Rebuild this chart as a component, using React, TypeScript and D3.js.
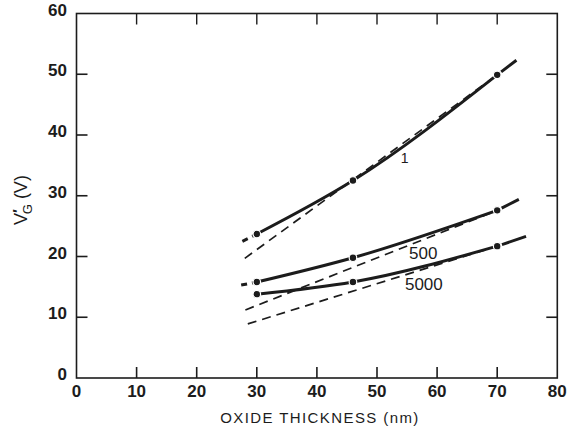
import React, { useRef, useEffect } from 'react';
import * as d3 from 'd3';

// 刻度
const xTicks = [0, 10, 20, 30, 40, 50, 60, 70, 80];
const yTicks = [0, 10, 20, 30, 40, 50, 60];

// 测量点 (氧化层厚度 nm)
const thickness = [30, 46, 70];
const vg1 = [23.7, 32.5, 49.9];
const vg500 = [15.8, 19.8, 27.6];
const vg5000 = [13.8, 15.8, 21.7];

// 曲线两端的虚线延长
const ext1 = [[27.6, 22.5], [73.2, 52.3]];
const ext500 = [[27.4, 15.3], [73.6, 29.4]];
const ext5000 = [null, [74.8, 23.3]];

// 虚线直线
const dash1 = [[28, 19.7], [70, 49.9]];
const dash500 = [[28.1, 11.2], [70, 27.6]];
const dash5000 = [[28.5, 8.9], [70, 21.7]];

const labels = [
  { text: '1', x: 54.6, y: 36.0, size: 14 },
  { text: '500', x: 57.7, y: 20.3, size: 17 },
  { text: '5000', x: 57.8, y: 15.2, size: 17 },
];

export default function App() {
  const ref = useRef(null);

  useEffect(() => {
    const ele = ref.current;
    d3.select(ele).selectAll('*').remove();
    const w = 569;
    const h = 426;
    const left = 76.5, right = 557.3, top = 13.5, bottom = 378;
    const ink = '#1c1c1c';
    const font = '"Liberation Sans", "DejaVu Sans", sans-serif';

    const x = d3.scaleLinear().domain([0, 80]).range([left, right]);
    const y = d3.scaleLinear().domain([0, 60]).range([bottom, top]);

    const svg = d3.select(ele).append('svg')
      .attr('width', w)
      .attr('height', h)
      .style('display', 'block')
      .style('background', '#fff');

    // 边框
    svg.append('rect')
      .attr('x', left).attr('y', top)
      .attr('width', right - left).attr('height', bottom - top)
      .attr('fill', 'none').attr('stroke', ink).attr('stroke-width', 1.6);

    // 内侧刻度
    const tl = 11;
    xTicks.slice(1, -1).forEach(t => {
      svg.append('line').attr('x1', x(t)).attr('x2', x(t)).attr('y1', bottom).attr('y2', bottom - tl)
        .attr('stroke', ink).attr('stroke-width', 1.6);
      svg.append('line').attr('x1', x(t)).attr('x2', x(t)).attr('y1', top).attr('y2', top + tl)
        .attr('stroke', ink).attr('stroke-width', 1.4);
    });
    yTicks.slice(1, -1).forEach(t => {
      svg.append('line').attr('x1', left).attr('x2', left + tl).attr('y1', y(t)).attr('y2', y(t))
        .attr('stroke', ink).attr('stroke-width', 1.6);
      svg.append('line').attr('x1', right).attr('x2', right - tl).attr('y1', y(t)).attr('y2', y(t))
        .attr('stroke', ink).attr('stroke-width', 1.6);
    });

    // 刻度值
    svg.selectAll('.xt').data(xTicks).enter().append('text')
      .attr('x', d => x(d)).attr('y', 397)
      .attr('text-anchor', 'middle')
      .attr('font-family', font).attr('font-size', 17).attr('font-weight', 'bold')
      .attr('fill', ink)
      .text(d => d);
    svg.selectAll('.yt').data(yTicks).enter().append('text')
      .attr('x', 67).attr('y', d => y(d) + 2)
      .attr('text-anchor', 'end')
      .attr('font-family', font).attr('font-size', 17).attr('font-weight', 'bold')
      .attr('fill', ink)
      .text(d => d);

    // 轴标题
    svg.append('text')
      .attr('x', 320).attr('y', 423)
      .attr('text-anchor', 'middle')
      .attr('font-family', font).attr('font-size', 15).attr('letter-spacing', 1.4)
      .attr('fill', ink)
      .text('OXIDE THICKNESS (nm)');

    const yt = svg.append('text')
      .attr('transform', 'translate(27,200) rotate(-90)')
      .attr('text-anchor', 'middle')
      .attr('font-family', font).attr('font-size', 18)
      .attr('fill', ink);
    yt.append('tspan').text('V');
    yt.append('tspan').attr('font-size', 15).attr('font-weight', 'bold').attr('dy', -4).attr('dx', 0).text('\u2032');
    yt.append('tspan').attr('font-size', 13).attr('dy', 9).attr('dx', -5).text('G');
    yt.append('tspan').attr('dy', -5).text(' (V)');

    const line = d3.line().x(d => x(d[0])).y(d => y(d[1]));
    const curve = d3.line().x(d => x(d[0])).y(d => y(d[1])).curve(d3.curveMonotoneX);

    // 虚线直线
    [dash1, dash500, dash5000].forEach(seg => {
      svg.append('path').attr('d', line(seg))
        .attr('fill', 'none').attr('stroke', ink).attr('stroke-width', 1.7)
        .attr('stroke-dasharray', '9,6');
    });

    // 实线曲线 + 延长
    const series = [
      { v: vg1, ext: ext1 },
      { v: vg500, ext: ext500 },
      { v: vg5000, ext: ext5000 },
    ];
    series.forEach(s => {
      const pts = thickness.map((t, i) => [t, s.v[i]]);
      svg.append('path').attr('d', curve(pts))
        .attr('fill', 'none').attr('stroke', ink).attr('stroke-width', 3)
        .attr('stroke-linecap', 'round');
      if (s.ext[0]) {
        svg.append('path').attr('d', line([s.ext[0], pts[0]]))
          .attr('fill', 'none').attr('stroke', ink).attr('stroke-width', 3)
          .attr('stroke-dasharray', '6,5');
      }
      if (s.ext[1]) {
        svg.append('path').attr('d', line([pts[2], s.ext[1]]))
          .attr('fill', 'none').attr('stroke', ink).attr('stroke-width', 3)
          .attr('stroke-dasharray', '0,5,30');
      }
      svg.selectAll(null).data(pts).enter().append('circle')
        .attr('cx', d => x(d[0])).attr('cy', d => y(d[1])).attr('r', 3.8)
        .attr('fill', ink).attr('stroke', '#fff').attr('stroke-width', 1.2);
    });

    // 曲线标注
    labels.forEach(l => {
      svg.append('text')
        .attr('x', x(l.x)).attr('y', y(l.y))
        .attr('text-anchor', 'middle').attr('dominant-baseline', 'middle')
        .attr('font-family', font).attr('font-size', l.size)
        .attr('fill', ink)
        .text(l.text);
    });
  }, []);

  return <div ref={ref} style={{ position: 'absolute', top: 0, left: 0 }}></div>;
}
